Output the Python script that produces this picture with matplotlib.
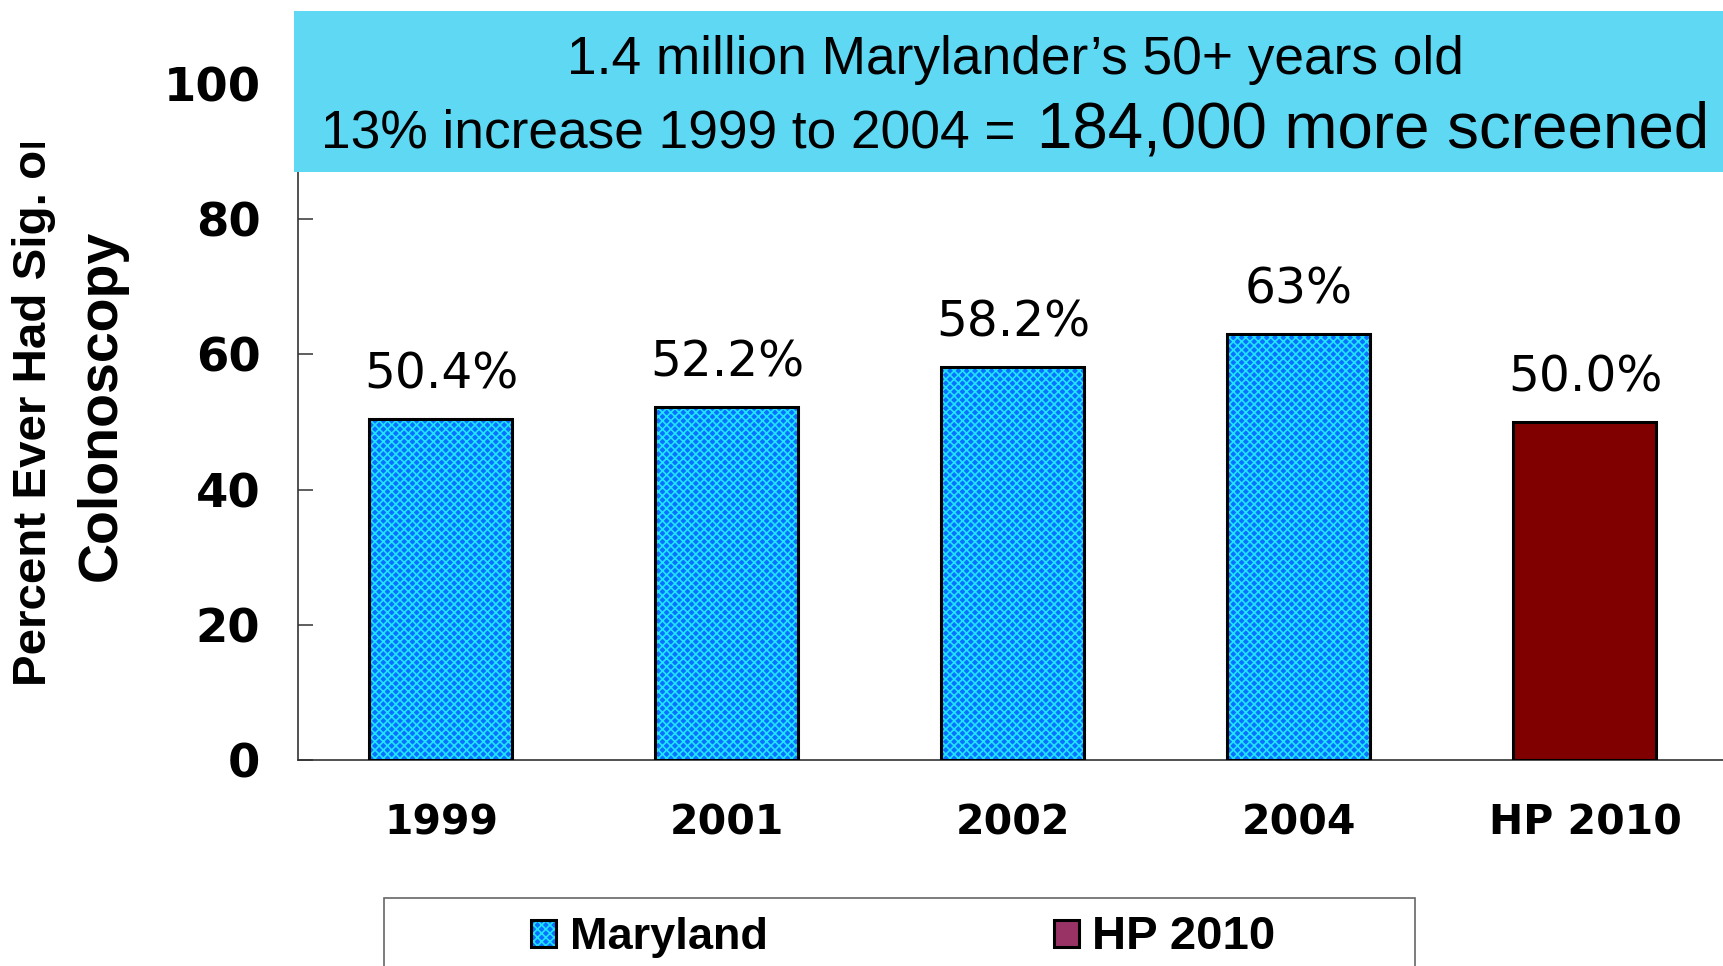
import matplotlib
matplotlib.use('Agg')
import matplotlib.pyplot as plt
from matplotlib.patches import Rectangle
from matplotlib.transforms import Bbox, TransformedBbox

# ---- data ----
categories = ['1999', '2001', '2002', '2004', 'HP 2010']
values = [50.4, 52.2, 58.2, 63.0, 50.0]
value_labels = ['50.4%', '52.2%', '58.2%', '63%', '50.0%']
series = ['Maryland', 'Maryland', 'Maryland', 'Maryland', 'HP 2010']
legend_labels = ['Maryland', 'HP 2010']
yticks = [0, 20, 40, 60, 80, 100]
ylabel_lines = ['Percent Ever Had Sig. or', 'Colonoscopy']
banner_line1 = '1.4 million Marylander\u2019s 50+ years old'
banner_line2a = '13% increase 1999 to 2004 ='
banner_line2b = '184,000 more screened'

W, H = 1724, 966
plt.rcParams['hatch.linewidth'] = 1.2
fig = plt.figure(figsize=(W / 100, H / 100), dpi=100)


def fx(px):
    return px / W


def fy(py):
    return 1 - py / H


md_face = '#0a70ff'
md_hatch = '#20e4ff'
hp_face = '#800000'
hp_legend = '#993366'

ax = fig.add_axes([fx(298), fy(760), 1 - fx(298), fy(84) - fy(760)])
xpos = list(range(len(categories)))
faces = [md_face if s == 'Maryland' else hp_face for s in series]
hcols = [md_hatch if s == 'Maryland' else hp_face for s in series]
bars = ax.bar(xpos, values, width=0.5, color=faces, edgecolor=hcols,
              linewidth=0, zorder=2)
for b, s in zip(bars, series):
    if s == 'Maryland':
        b.set_hatch('xxxx')
ax.bar(xpos, values, width=0.5, fill=False, edgecolor='black',
       linewidth=2.2, zorder=3)

for xi, v, lab in zip(xpos, values, value_labels):
    ax.annotate(lab, (xi, v), xytext=(0, 22), textcoords='offset points',
                ha='center', va='baseline', fontsize=35, family='DejaVu Sans')

ax.set_xlim(-0.5, -0.5 + (W - 298) / 286)
ax.set_ylim(0, 100)
for sp in ['top', 'right']:
    ax.spines[sp].set_visible(False)
for sp in ['left', 'bottom']:
    ax.spines[sp].set_color('#333333')
    ax.spines[sp].set_linewidth(1.2)

ax.set_yticks(yticks)
ax.set_yticklabels([str(t) for t in yticks], fontsize=33.5, fontweight='bold',
                   family='DejaVu Sans')
ax.tick_params(axis='y', direction='in', length=11, width=1.1,
               color='#333333', pad=27)
ax.set_xticks(xpos)
ax.set_xticklabels(categories, fontsize=29.5, fontweight='bold',
                   family='DejaVu Sans')
ax.tick_params(axis='x', length=0, pad=31)

# y label (two lines)
t1 = fig.text(fx(34), fy(686), ylabel_lines[0], rotation=90,
              rotation_mode='anchor', ha='left', va='center', fontsize=34.2,
              fontweight='bold', family='Liberation Sans')
t1.set_clip_box(TransformedBbox(Bbox.from_extents(0, 0, 1, fy(143)),
                                fig.transFigure))
fig.text(fx(102), fy(581), ylabel_lines[1], rotation=90,
         rotation_mode='anchor', ha='left', va='center', fontsize=40,
         fontweight='bold', family='Liberation Sans')

# banner
fig.add_artist(Rectangle((fx(294), fy(172)), 1 - fx(294), fy(11) - fy(172),
                         transform=fig.transFigure, facecolor='#5fd8f4',
                         edgecolor='none', zorder=5))
fig.text(fx(1015), fy(74), banner_line1, ha='center', va='baseline',
         fontsize=38.3, family='Liberation Sans', zorder=6)
fig.text(fx(1016), fy(147), banner_line2a, ha='right', va='baseline',
         fontsize=38.3, family='Liberation Sans', zorder=6)
fig.text(fx(1037), fy(147), banner_line2b, ha='left', va='baseline',
         fontsize=45.8, family='Liberation Sans', zorder=6)

# legend
fig.add_artist(Rectangle((fx(384), fy(1010)), fx(1415) - fx(384),
                         fy(898) - fy(1010), transform=fig.transFigure,
                         facecolor='white', edgecolor='#666666',
                         linewidth=1.2, zorder=5))
leg_x = [531, 1054]
leg_text_x = [570, 1092]
leg_sizes = [32.5, 34]
for lab, lx, tx, fs in zip(legend_labels, leg_x, leg_text_x, leg_sizes):
    if lab == 'Maryland':
        p = Rectangle((fx(lx), fy(947)), fx(25), fy(920) - fy(947),
                      transform=fig.transFigure, facecolor=md_face,
                      edgecolor=md_hatch, linewidth=0, hatch='xxxx', zorder=6)
        fig.add_artist(p)
        face = 'none'
    else:
        face = hp_legend
    fig.add_artist(Rectangle((fx(lx), fy(947)), fx(25), fy(920) - fy(947),
                             transform=fig.transFigure, facecolor=face,
                             edgecolor='black', linewidth=2.2, zorder=7))
    fig.text(fx(tx), fy(937), lab, ha='left', va='center', fontsize=fs,
             fontweight='bold', family='Liberation Sans', zorder=7)

fig.savefig('out.png', dpi=100)
